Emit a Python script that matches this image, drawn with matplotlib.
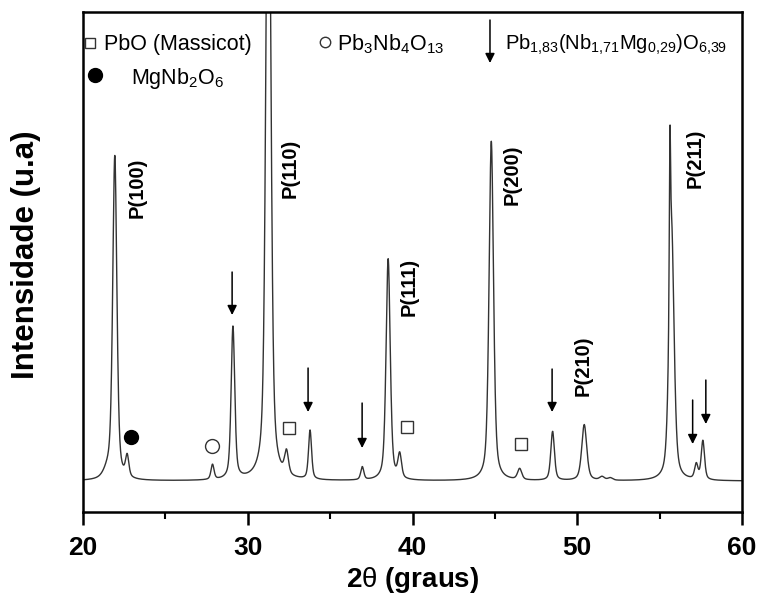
import numpy as np
import matplotlib
matplotlib.use("Agg")
import matplotlib.pyplot as plt

plt.rcParams['font.family'] = ['Liberation Sans', 'DejaVu Sans']
plt.rcParams['mathtext.fontset'] = 'custom'
plt.rcParams['mathtext.rm'] = 'Liberation Sans'
plt.rcParams['mathtext.it'] = 'Liberation Sans:italic'
plt.rcParams['mathtext.bf'] = 'Liberation Sans:bold'

# ---- data ----
baseline = 6.2
peak_pos = [21.50, 21.93, 22.68, 27.86, 29.10, 31.25, 32.35, 33.78, 36.95, 38.52, 39.22,
            44.78, 46.50, 48.50, 50.42, 51.50, 52.00, 55.62, 55.72, 57.22, 57.62]
peak_height = [1.5, 64.6, 4.2, 3.0, 30.5, 150.0, 4.6, 9.8, 2.6, 44.3, 4.8,
               67.9, 2.2, 9.8, 11.2, 0.7, 0.5, 31.4, 50.0, 3.0, 7.8]
peak_fwhm = [0.60, 0.30, 0.24, 0.22, 0.26, 0.34, 0.28, 0.22, 0.22, 0.30, 0.26,
             0.32, 0.30, 0.26, 0.36, 0.35, 0.35, 0.09, 0.36, 0.24, 0.24]

hkl_labels = ['P(100)', 'P(110)', 'P(111)', 'P(200)', 'P(210)', 'P(211)']
hkl_x = [23.3, 32.6, 39.8, 46.05, 50.35, 57.15]
hkl_y = [64.8, 68.8, 45.0, 67.4, 29.2, 70.8]

perov_arrow_x = [29.05, 33.66, 36.94, 48.47, 57.0, 57.8]
perov_arrow_top = [48.0, 28.8, 21.8, 28.6, 22.4, 26.4]
perov_arrow_tip = [39.4, 20.0, 12.8, 20.0, 13.6, 17.6]

pbo_x = [32.5, 39.65, 46.6]
pbo_y = [16.8, 17.0, 13.6]
pb3_x = [27.83]
pb3_y = [13.2]
mg_x = [22.91]
mg_y = [15.0]

x = np.linspace(20, 60, 4001)


def pseudo_voigt(xx, c, h, w, eta=0.5):
    g = np.exp(-4 * np.log(2) * ((xx - c) / w) ** 2)
    l = 1.0 / (1.0 + 4 * ((xx - c) / w) ** 2)
    return h * (eta * l + (1 - eta) * g)


y = np.full_like(x, baseline)
for c, h, w in zip(peak_pos, peak_height, peak_fwhm):
    y += pseudo_voigt(x, c, h, w)

fig = plt.figure(figsize=(7.58, 6.01), dpi=100)
ax = fig.add_axes([0.1095, 0.148, 0.8695, 0.832])
ax.plot(x, y, color='#333333', lw=1.0)
ax.set_xlim(20, 60)
ax.set_ylim(0, 100)
ax.set_yticks([])
ax.set_xticks([20, 30, 40, 50, 60])
ax.set_xticks([25, 35, 45, 55], minor=True)
ax.tick_params(axis='x', which='major', direction='out', length=9, width=1.8,
               labelsize=19, pad=8)
ax.tick_params(axis='x', which='minor', direction='out', length=5, width=1.5)
for lab in ax.get_xticklabels():
    lab.set_fontweight('bold')
for s in ax.spines.values():
    s.set_linewidth(1.8)

ax.set_xlabel(r'2$\mathrm{\theta}$ (graus)', fontsize=20, fontweight='bold',
              labelpad=4)
ax.set_ylabel('Intensidade (u.a)', fontsize=22.5, fontweight='bold')
ax.yaxis.set_label_coords(-0.063, 0.514)

for t, xx, yy in zip(hkl_labels, hkl_x, hkl_y):
    ax.text(xx, yy, t, rotation=90, ha='center', va='center', fontsize=14.5,
            fontweight='bold')

for xx, yt, yb in zip(perov_arrow_x, perov_arrow_top, perov_arrow_tip):
    ax.annotate('', xy=(xx, yb), xytext=(xx, yt),
                arrowprops=dict(arrowstyle='-|>', color='black', lw=1.1,
                                mutation_scale=14, shrinkA=0, shrinkB=0))

ax.plot(pbo_x, pbo_y, 's', ms=8.5, mfc='white', mec='#333333', mew=1.0)
ax.plot(pb3_x, pb3_y, 'o', ms=10, mfc='white', mec='#333333', mew=1.0)
ax.plot(mg_x, mg_y, 'o', ms=10, mfc='black', mec='black')

# legend-like header
ax.plot([20.4], [93.8], 's', ms=6.5, mfc='white', mec='#333333', mew=1.0)
ax.text(21.3, 92.4, 'PbO (Massicot)', fontsize=15.5, va='baseline', ha='left')
ax.plot([20.73], [87.4], 'o', ms=10, mfc='black', mec='black')
ax.text(22.9, 85.7, r'MgNb$_\mathregular{2}$O$_\mathregular{6}$', fontsize=15.5,
        va='baseline', ha='left')
ax.plot([34.7], [94.0], 'o', ms=7.5, mfc='white', mec='#333333', mew=1.0)
ax.text(35.4, 92.4, r'Pb$_\mathregular{3}$Nb$_\mathregular{4}$O$_\mathregular{13}$',
        fontsize=15.5, va='baseline', ha='left')
ax.annotate('', xy=(44.7, 89.8), xytext=(44.7, 98.4),
            arrowprops=dict(arrowstyle='-|>', color='black', lw=1.1,
                            mutation_scale=14, shrinkA=0, shrinkB=0))
ax.text(45.6, 92.4,
        r'Pb$_\mathregular{1{,}83}$(Nb$_\mathregular{1{,}71}$Mg$_\mathregular{0{,}29}$)O$_\mathregular{6{,}39}$',
        fontsize=14.6, va='baseline', ha='left')

fig.savefig('out.png', dpi=100)
